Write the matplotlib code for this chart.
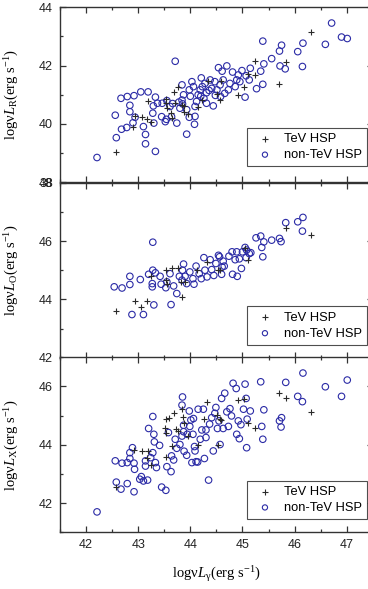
import matplotlib
matplotlib.use("Agg")
import matplotlib.pyplot as plt
from matplotlib.ticker import MultipleLocator

# ---------------- data ----------------
# Panel 1: log nu L_R vs log nu L_gamma
r_non_x = [42.21, 42.56, 42.58, 42.68, 42.67, 42.78, 42.79, 42.84, 42.84, 42.92, 42.90, 42.94,
           43.05, 43.19, 43.10, 43.14, 43.14, 43.33, 43.33, 43.29, 43.28, 43.30, 43.37, 43.45,
           43.52, 43.54, 43.61, 43.64, 43.71, 43.74, 43.80, 43.84, 43.84, 43.87, 43.93, 43.93,
           43.98, 43.98, 44.03, 44.06, 44.08, 44.09, 44.12, 44.15, 44.19, 44.21, 44.23, 44.26,
           44.28, 44.31, 44.38, 44.41, 44.44, 44.47, 44.51, 44.54, 44.57, 44.58, 44.61, 44.63,
           44.70, 44.73, 44.76, 44.81, 44.86, 44.89, 44.92, 44.95, 44.99, 45.05, 45.07, 45.15,
           45.13, 45.27, 45.35, 45.39, 45.39, 45.41, 45.56, 45.71, 45.75, 45.72, 45.82, 46.06,
           46.15, 46.16, 46.59, 46.71, 46.90, 47.01,
           43.55, 43.46, 43.85, 44.09, 44.31, 43.66, 44.00, 44.36, 44.66, 44.20, 43.78, 44.48]
r_non_y = [38.85, 40.30, 39.53, 39.82, 40.88, 39.88, 40.94, 40.64, 40.42, 40.97, 40.04, 40.23,
           41.10, 41.10, 39.91, 39.64, 39.32, 39.06, 40.92, 40.62, 40.37, 40.03, 40.71, 40.25,
           40.08, 40.16, 40.60, 40.25, 42.15, 40.03, 40.54, 40.82, 41.34, 41.00, 39.65, 40.49,
           40.23, 41.17, 41.45, 41.28, 39.99, 40.26, 40.77, 41.00, 41.17, 41.58, 41.28, 40.88,
           41.39, 41.07, 41.51, 41.22, 40.62, 41.45, 41.17, 41.93, 41.34, 40.94, 41.81, 41.51,
           41.99, 41.17, 41.39, 41.78, 41.28, 41.51, 41.68, 41.45, 41.83, 40.92, 41.65, 41.91,
           41.51, 41.21, 41.81, 41.36, 42.84, 42.06, 42.24, 42.50, 42.70, 41.99, 41.89, 42.48,
           41.97, 42.77, 42.73, 43.46, 42.98, 42.93,
           40.80, 40.71, 40.69, 40.60, 40.71, 40.70, 40.95, 41.15, 41.05, 40.95, 40.75, 40.98]
r_tev_x = [42.57, 42.90, 42.94, 43.07, 43.16, 43.24, 43.18, 43.53, 43.53, 43.55, 43.62, 43.64,
           43.68, 43.77, 43.71, 43.84, 43.87, 43.96, 43.87, 44.14, 44.23, 44.33, 44.51, 44.57,
           44.59, 44.92, 45.02, 45.11, 45.24, 45.24, 45.71, 45.83, 46.31]
r_tev_y = [39.05, 39.88, 40.28, 40.23, 40.16, 40.07, 40.80, 40.86, 40.71, 40.54, 40.39, 40.20,
           41.09, 41.26, 40.72, 40.65, 40.42, 40.35, 40.60, 40.57, 40.82, 41.47, 41.03, 40.82,
           41.47, 41.00, 41.28, 41.71, 41.69, 42.16, 41.37, 42.11, 43.17]

# Panel 2: log nu L_O vs log nu L_gamma
o_non_x = [42.54, 42.69, 42.84, 42.84, 42.88, 43.04, 43.10, 43.20, 43.28, 43.28, 43.27, 43.27,
           43.30, 43.33, 43.42, 43.44, 43.53, 43.55, 43.61, 43.63, 43.68, 43.74, 43.79, 43.84,
           43.85, 43.87, 43.90, 43.93, 43.99, 44.05, 44.07, 44.11, 44.17, 44.21, 44.26, 44.28,
           44.32, 44.38, 44.41, 44.45, 44.49, 44.54, 44.56, 44.60, 44.61, 44.63, 44.65, 44.74,
           44.80, 44.81, 44.86, 44.89, 44.90, 44.94, 44.98, 45.00, 45.05, 45.07, 45.08, 45.13,
           45.16, 45.26, 45.35, 45.37, 45.39, 45.41, 45.56, 45.71, 45.74, 45.83, 46.06, 46.15,
           46.16]
o_non_y = [44.43, 44.39, 44.51, 44.79, 43.48, 44.68, 43.48, 44.86, 45.96, 45.00, 44.54, 44.43,
           43.81, 44.91, 44.79, 44.52, 44.40, 44.60, 44.88, 43.82, 44.46, 44.20, 44.79, 44.66,
           45.00, 45.21, 44.79, 44.54, 44.94, 44.71, 44.52, 45.14, 44.88, 44.71, 45.43, 45.00,
           44.77, 45.36, 45.02, 44.82, 45.23, 45.51, 45.46, 44.86, 45.11, 45.31, 45.14, 45.48,
           45.63, 44.86, 45.36, 45.63, 44.79, 45.39, 45.06, 45.63, 45.78, 45.43, 45.69, 45.57,
           45.60, 46.11, 46.17, 45.78, 45.46, 45.97, 46.03, 46.09, 45.98, 46.63, 46.66, 46.34,
           46.81]
o_tev_x = [42.57, 42.93, 43.06, 43.16, 43.24, 43.53, 43.53, 43.55, 43.64, 43.77, 43.82, 43.90,
           43.84, 44.12, 44.32, 44.53, 44.57, 45.04, 45.11, 45.83, 46.31]
o_tev_y = [43.60, 43.93, 43.74, 43.94, 44.79, 45.00, 44.66, 44.54, 45.06, 45.06, 44.60, 44.60,
           44.08, 45.00, 45.28, 45.02, 45.00, 45.77, 45.34, 46.46, 46.22]

# Panel 3: log nu L_X vs log nu L_gamma
x_non_x = [42.21, 42.56, 42.58, 42.67, 42.69, 42.79, 42.79, 42.84, 42.84, 42.89, 42.92, 42.93,
           42.92, 43.03, 43.06, 43.10, 43.18, 43.14, 43.14, 43.20, 43.24, 43.28, 43.30, 43.28,
           43.31, 43.33, 43.35, 43.41, 43.45, 43.53, 43.55, 43.58, 43.63, 43.64, 43.68, 43.71,
           43.74, 43.80, 43.84, 43.84, 43.85, 43.87, 43.87, 43.88, 43.93, 43.94, 43.98, 43.99,
           44.01, 44.03, 44.05, 44.06, 44.08, 44.09, 44.11, 44.14, 44.15, 44.19, 44.22, 44.25,
           44.27, 44.30, 44.30, 44.35, 44.37, 44.41, 44.44, 44.47, 44.49, 44.52, 44.55, 44.57,
           44.60, 44.63, 44.66, 44.70, 44.73, 44.76, 44.79, 44.82, 44.88, 44.89, 44.92, 44.94,
           44.97, 45.02, 45.05, 45.07, 45.08, 45.09, 45.15, 45.35, 45.37, 45.39, 45.41, 45.71,
           45.74, 45.75, 45.83, 46.06, 46.15, 46.16, 46.59, 46.90, 47.01]
x_non_y = [41.70, 43.45, 42.72, 42.48, 43.37, 43.39, 42.67, 43.73, 43.53, 43.90, 43.37, 43.16,
           42.39, 42.82, 42.91, 42.76, 42.79, 43.45, 43.27, 44.56, 43.56, 43.73, 44.36, 44.97,
           44.10, 43.39, 43.22, 43.98, 42.55, 42.44, 43.25, 44.42, 43.08, 43.62, 43.48, 44.19,
           43.88, 44.01, 44.30, 45.36, 45.64, 44.67, 44.45, 43.78, 43.64, 44.36, 45.16, 44.63,
           44.85, 43.39, 44.36, 44.90, 43.94, 43.79, 43.42, 43.41, 45.22, 44.19, 44.51, 45.22,
           43.53, 44.25, 44.51, 42.79, 44.71, 44.93, 43.79, 45.08, 45.28, 44.56, 44.82, 44.01,
           45.59, 44.56, 45.77, 45.13, 44.63, 45.24, 44.99, 46.11, 45.93, 44.36, 44.82, 44.21,
           44.69, 45.22, 46.08, 45.59, 43.90, 44.88, 45.16, 46.16, 44.63, 44.19, 45.20, 44.82,
           44.61, 44.93, 46.14, 45.66, 45.48, 46.46, 45.99, 45.66, 46.22]
x_tev_x = [42.57, 42.91, 43.07, 43.18, 43.16, 43.24, 43.52, 43.53, 43.53, 43.53, 43.60, 43.64,
           43.68, 43.73, 43.77, 43.84, 43.85, 43.87, 43.96, 44.15, 44.26, 44.32, 44.52, 44.53,
           44.57, 44.59, 44.92, 45.02, 45.11, 45.24, 45.71, 45.83, 46.31]
x_tev_y = [42.55, 43.81, 43.79, 43.79, 43.56, 43.30, 44.56, 44.40, 44.88, 43.59, 44.93, 43.96,
           45.08, 44.53, 44.48, 45.22, 44.97, 44.76, 44.30, 43.98, 44.90, 45.47, 45.02, 43.98,
           44.90, 44.85, 45.54, 45.56, 44.76, 44.59, 45.79, 45.59, 45.11]

panels = [
    dict(nx=r_non_x, ny=r_non_y, tx=r_tev_x, ty=r_tev_y, ylim=(38, 44), sub="R"),
    dict(nx=o_non_x, ny=o_non_y, tx=o_tev_x, ty=o_tev_y, ylim=(42, 48), sub="O"),
    dict(nx=x_non_x, ny=x_non_y, tx=x_tev_x, ty=x_tev_y, ylim=(41, 47), sub="X"),
]
legend_labels = ["TeV HSP", "non-TeV HSP"]

# ---------------- style ----------------
plt.rcParams["font.family"] = ["Liberation Sans", "DejaVu Sans"]
plt.rcParams["mathtext.fontset"] = "custom"
plt.rcParams["mathtext.rm"] = "Liberation Serif"
plt.rcParams["mathtext.it"] = "Liberation Serif:italic"
plt.rcParams["mathtext.bf"] = "Liberation Serif:bold"

spine_col = "#333333"
circ_col = "#2b2ba6"
plus_col = "#2a2a2a"

fig = plt.figure(figsize=(3.68, 5.89), dpi=100)
left = 60 / 368
width = (372.8 - 60) / 368
tops_px = [7.3, 182.7, 357.3]
h_px = 175.0
legend_y = [0.092, 0.074, 0.076]

for i, p in enumerate(panels):
    top = tops_px[i]
    bottom_frac = 1 - (top + h_px) / 589
    ax = fig.add_axes([left, bottom_frac, width, h_px / 589])
    ax.scatter(p["tx"], p["ty"], marker="+", s=22, color=plus_col, linewidths=0.8,
               label=legend_labels[0], zorder=3)
    ax.scatter(p["nx"], p["ny"], marker="o", s=22, facecolors="none", edgecolors=circ_col,
               linewidths=0.8, label=legend_labels[1], zorder=2)
    ax.set_xlim(41.5, 47.5)
    ax.set_ylim(*p["ylim"])
    ax.xaxis.set_major_locator(MultipleLocator(1))
    ax.xaxis.set_minor_locator(MultipleLocator(0.5))
    ax.yaxis.set_major_locator(MultipleLocator(2))
    ax.yaxis.set_minor_locator(MultipleLocator(1))
    ax.tick_params(which="both", direction="in", top=True, right=True, colors=spine_col,
                   labelcolor="#222222", labelsize=9, width=0.9)
    ax.tick_params(which="major", length=4.5, pad=5)
    ax.tick_params(which="minor", length=2.5)
    for s in ax.spines.values():
        s.set_color(spine_col)
        s.set_linewidth(1.0)
    if i < 2:
        ax.tick_params(labelbottom=False)
    ax.set_ylabel("logν$L_{\\mathrm{%s}}$(erg s$^{\\mathrm{-1}}$)" % p["sub"],
                  family="Liberation Serif", fontsize=10.5, labelpad=5)
    ax.yaxis.set_label_coords(-0.125, 0.5)
    leg = ax.legend(loc="lower right", bbox_to_anchor=(0.983, legend_y[i]), frameon=True,
                    fancybox=False, edgecolor="#222222", fontsize=9.3, handletextpad=0.5,
                    labelspacing=0.3, borderpad=0.4, handlelength=2.0,
                    borderaxespad=0.0, markerscale=0.8)
    leg.get_frame().set_linewidth(0.8)
    if i == 2:
        ax.set_xlabel("logν$L_{\\mathrm{γ}}$(erg s$^{\\mathrm{-1}}$)",
                      family="Liberation Serif", fontsize=10.5, labelpad=9)

fig.savefig("out.png", dpi=100)
